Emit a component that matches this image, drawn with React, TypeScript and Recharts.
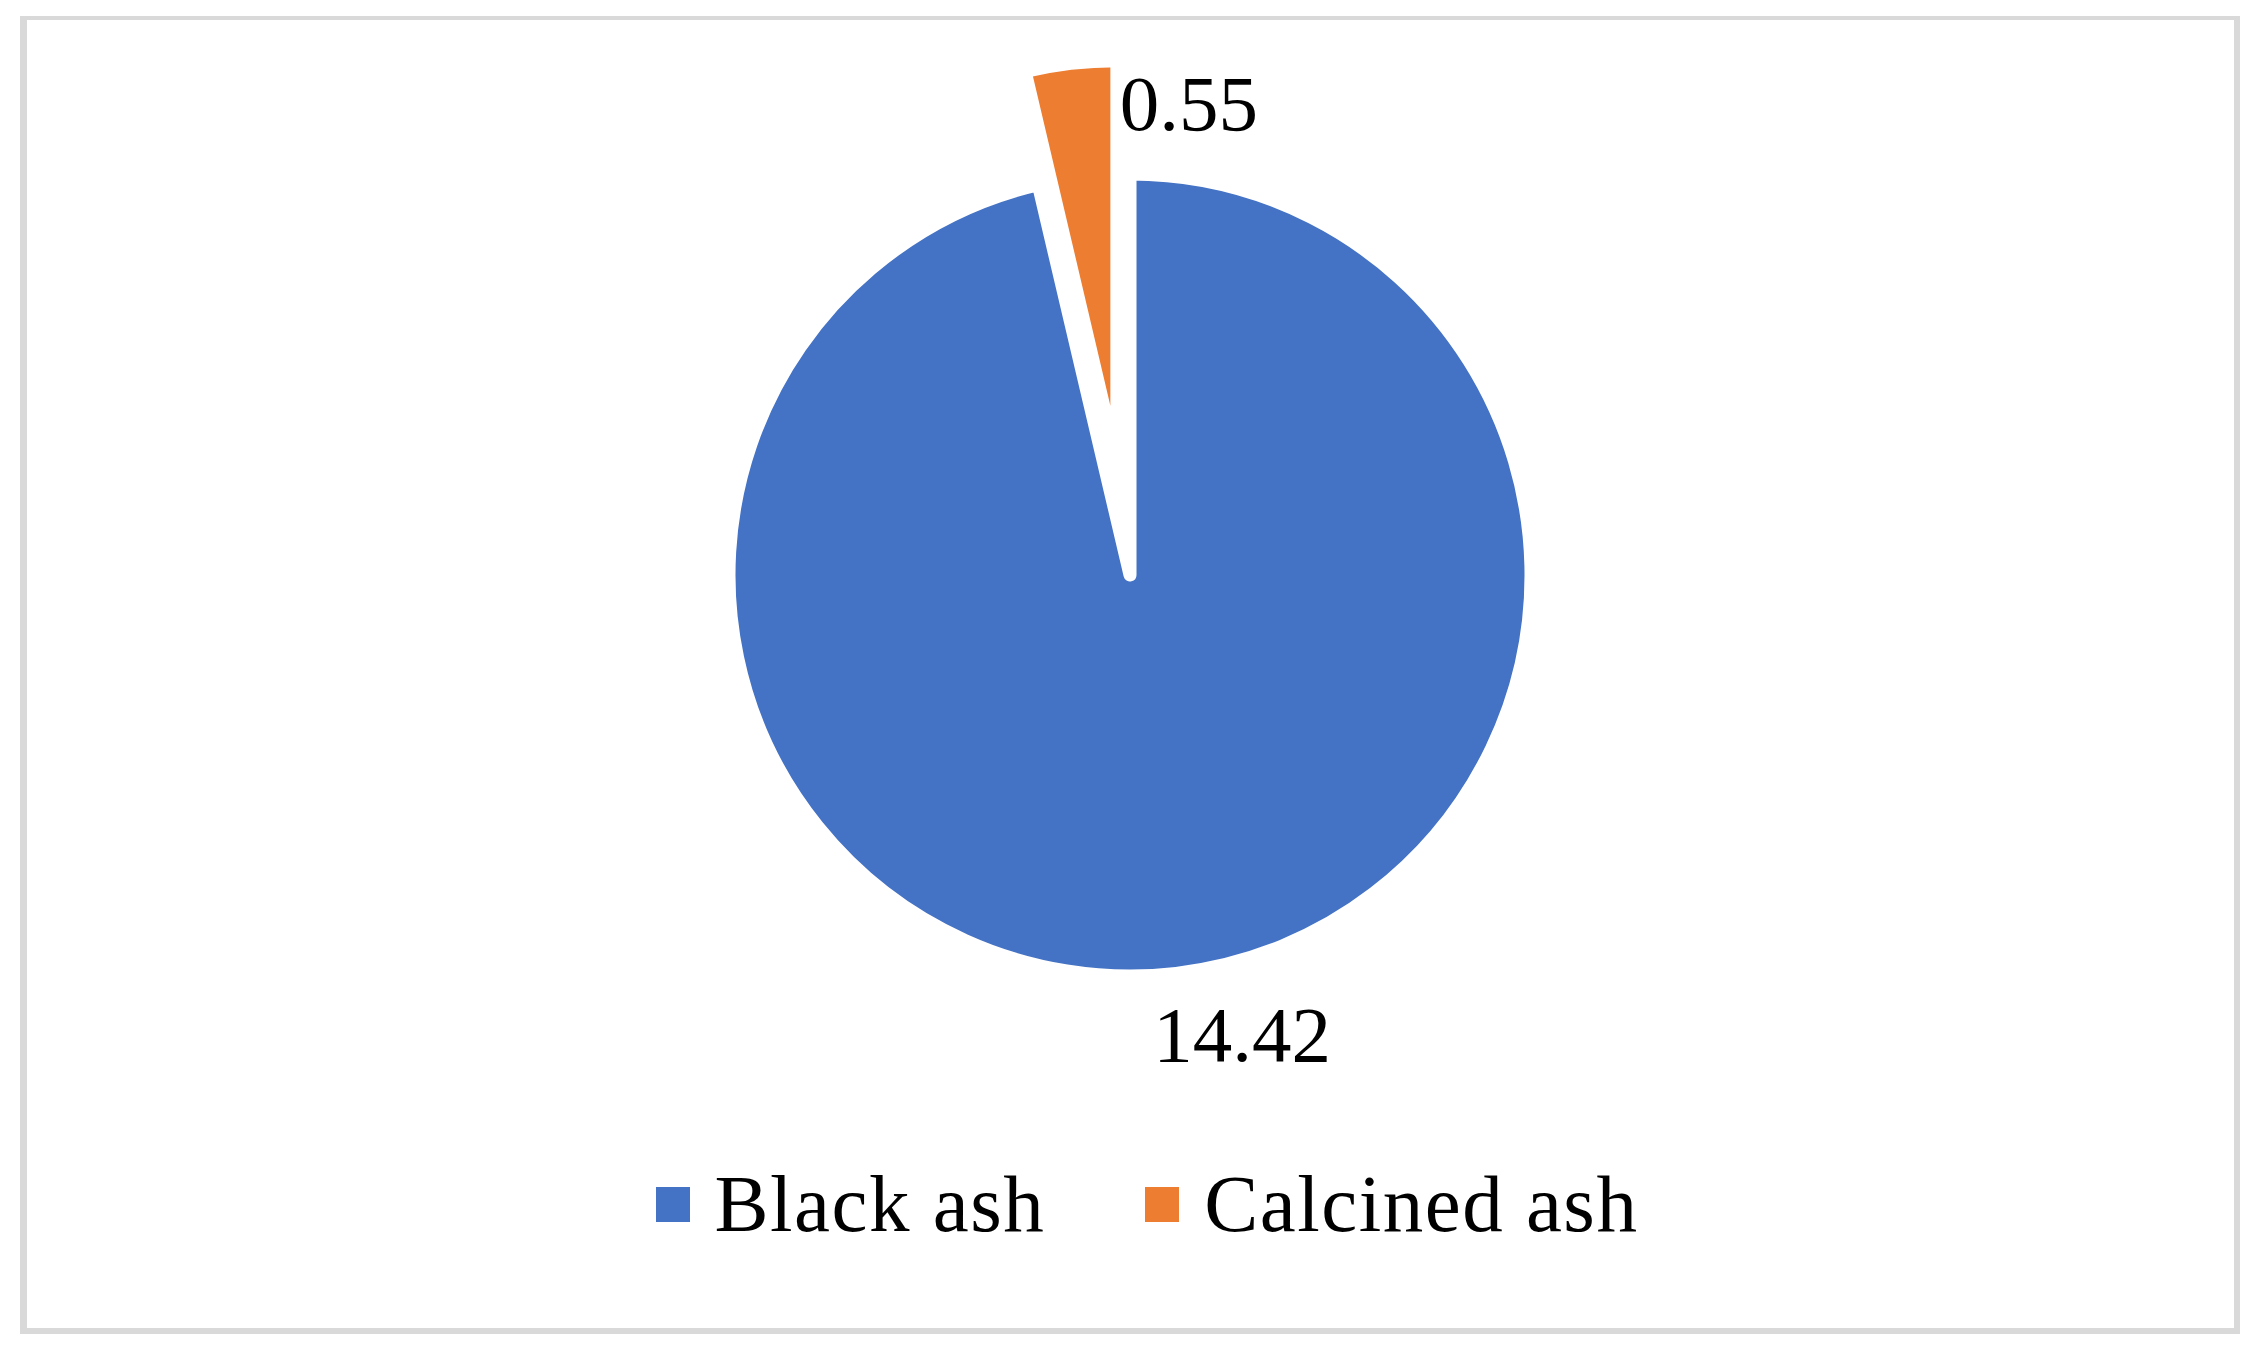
import { PieChart, Pie, Cell, Legend } from 'recharts';

const categories = ['Black ash', 'Calcined ash'];
const values = [14.42, 0.55];
const valueLabels = ['14.42', '0.55'];
const colors = ['#4472C4', '#ED7D31'];

const W = 2260;
const H = 1353;
const CX = 1130;
const CY = 575;
const RADIUS = 401;
const EXPLODE = 114; // how far the calcined slice is pulled out
const FONT = '"Palatino Linotype", "Book Antiqua", "Liberation Serif", serif';

const data = categories.map((name, i) => ({ name, value: values[i] }));

// direction of the exploded slice: middle of the last slice, drawn clockwise from 12 o'clock
const total = values.reduce((a, b) => a + b, 0);
const explodeMid = (90 - (360 * (total - values[1] / 2)) / total) * (Math.PI / 180);
const explodeCx = CX + EXPLODE * Math.cos(explodeMid);
const explodeCy = CY - EXPLODE * Math.sin(explodeMid);

const renderLabel = (which: number) => (props: any) => {
  const { cx, cy, midAngle, outerRadius, index } = props;
  if (index !== which) return null;
  const rad = (-midAngle * Math.PI) / 180;
  const px = cx + outerRadius * Math.cos(rad);
  const py = cy + outerRadius * Math.sin(rad);
  const below = py > cy;
  return (
    <text
      x={below ? px + 66 : px + 49}
      y={below ? py + 88 : py + 67}
      textAnchor={below ? 'middle' : 'start'}
      fill="#000"
      fontFamily={FONT}
      fontSize={79}
    >
      {valueLabels[index]}
    </text>
  );
};

const LegendContent = () => (
  <div
    style={{
      display: 'flex',
      justifyContent: 'center',
      paddingLeft: 34,
      fontFamily: FONT,
      fontSize: 81,
      letterSpacing: 1.5,
      lineHeight: '80px',
      color: '#000',
    }}
  >
    {categories.map((name, i) => (
      <div key={name} style={{ display: 'flex', alignItems: 'center', marginRight: i === 0 ? 100 : 0 }}>
        <span style={{ width: 34, height: 35, background: colors[i], marginRight: 25 }} />
        <span>{name}</span>
      </div>
    ))}
  </div>
);

export default function App() {
  return (
    <div style={{ position: 'absolute', left: 0, top: 0, width: W, height: H, background: '#fff' }}>
      <style>{`.recharts-sector { stroke-linejoin: round; }`}</style>
      <div
        style={{
          position: 'absolute',
          left: 20,
          top: 16,
          width: 2220,
          height: 1318,
          boxSizing: 'border-box',
          borderStyle: 'solid',
          borderColor: '#D9D9D9',
          borderWidth: '4px 6px 6px 7px',
        }}
      />
      <div style={{ position: 'absolute', left: 0, top: 0 }}>
        <PieChart width={W} height={H} margin={{ top: 0, right: 0, bottom: 0, left: 0 }}>
          <Pie
            data={data}
            dataKey="value"
            nameKey="name"
            cx={CX}
            cy={CY}
            outerRadius={RADIUS}
            startAngle={90}
            endAngle={-270}
            label={renderLabel(0)}
            labelLine={false}
            isAnimationActive={false}
          >
            <Cell fill={colors[0]} stroke="#fff" strokeWidth={13} strokeLinejoin="round" />
            <Cell fill="none" stroke="none" />
          </Pie>
          <Pie
            data={data}
            dataKey="value"
            nameKey="name"
            cx={explodeCx}
            cy={explodeCy}
            outerRadius={RADIUS}
            startAngle={90}
            endAngle={-270}
            label={renderLabel(1)}
            labelLine={false}
            legendType="none"
            isAnimationActive={false}
          >
            <Cell fill="none" stroke="none" />
            <Cell fill={colors[1]} stroke="#fff" strokeWidth={13} strokeLinejoin="round" />
          </Pie>
          <Legend
            content={<LegendContent />}
            wrapperStyle={{ position: 'absolute', top: 1164, left: 0, width: W, bottom: 'auto' }}
          />
        </PieChart>
      </div>
    </div>
  );
}
